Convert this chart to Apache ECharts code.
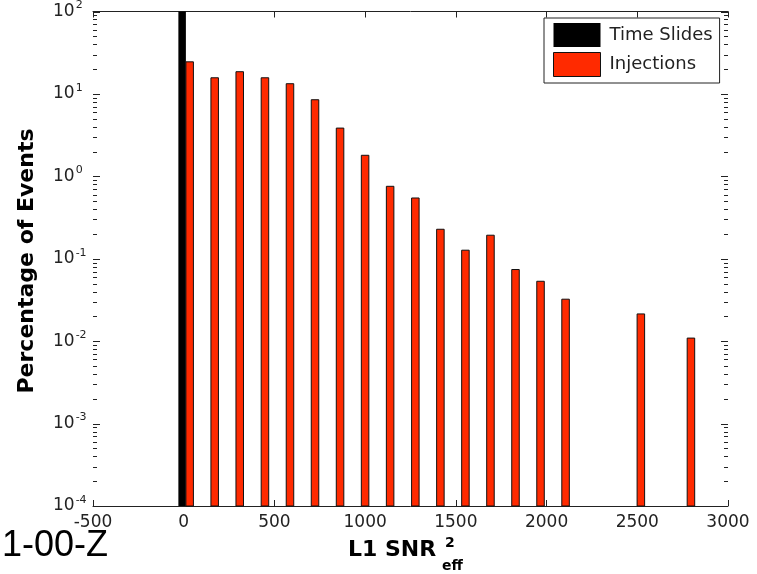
<!DOCTYPE html>
<html>
<head>
<meta charset="utf-8">
<title>L1 SNR eff histogram</title>
<script src="https://cdn.jsdelivr.net/npm/echarts@6/dist/echarts.min.js"></script>
<style>
  html, body { margin: 0; padding: 0; background: #fff; }
  #chart { width: 757px; height: 574px; }
</style>
</head>
<body>
<div id="chart"></div>
<script>
// Histogram bins (centres, in units of SNR^2_eff) and percentages per bin
const binWidth = 138.15;
const timeSlideBins = [12];
const timeSlides = [100];
const injectionBins = [12, 150, 288, 427, 565, 703, 841, 979, 1117, 1256, 1394, 1532, 1670, 1808, 1946, 2084, 2499, 2775];
const injections = [24.5, 15.7, 18.6, 15.7, 13.3, 8.5, 3.85, 1.80, 0.757, 0.546, 0.228, 0.127, 0.193, 0.074, 0.0533, 0.0323, 0.0214, 0.0109];

// Axis ranges and tick positions
const X_MIN = -500, X_MAX = 3000, X_STEP = 500;
const Y_MIN = 1e-4, Y_MAX = 100;
const yDecades = [1e-4, 1e-3, 1e-2, 1e-1, 1, 10, 100];
const yMinor = [];
for (let d = -4; d < 2; d++) {
  for (let m = 2; m <= 9; m++) yMinor.push(m * Math.pow(10, d));
}

const AXIS_COLOR = '#222';
const LABEL_FONT = 'DejaVu Sans';
const TITLE_FONT = 'DejaVu Sans';
const BAR_FRACTION = 0.3;
const MAJOR_LEN = 7, MINOR_LEN = 4;

function toPairs(xs, ys) {
  return xs.map((x, i) => [x, ys[i]]);
}

// side < 0 draws the bar to the left of the bin centre, side > 0 to the right
function barRenderer(side, fill, stroke, lineWidth) {
  return function (params, api) {
    const x = api.value(0);
    const v = api.value(1);
    const top = api.coord([x, v]);
    const base = api.coord([x, Y_MIN]);
    const w = api.coord([x + binWidth * BAR_FRACTION, v])[0] - top[0];
    const x0 = side < 0 ? top[0] - w : top[0];
    return {
      type: 'rect',
      shape: { x: x0, y: top[1], width: w, height: base[1] - top[1] },
      style: { fill: fill, stroke: stroke, lineWidth: lineWidth }
    };
  };
}

// Log-axis tick marks drawn inward on both the left and right frame edges
const yTickMarks = yDecades.map(v => [X_MIN, v, MAJOR_LEN])
  .concat(yMinor.map(v => [X_MIN, v, MINOR_LEN]));

function tickRenderer(params, api) {
  const v = api.value(1);
  const len = api.value(2);
  const l = api.coord([X_MIN, v]);
  const r = api.coord([X_MAX, v]);
  const y = Math.round(l[1]) + 0.5;
  const style = { stroke: AXIS_COLOR, lineWidth: 1 };
  return {
    type: 'group',
    children: [
      { type: 'line', shape: { x1: l[0], y1: y, x2: l[0] + len, y2: y }, style: style },
      { type: 'line', shape: { x1: r[0] - len, y1: y, x2: r[0], y2: y }, style: style }
    ]
  };
}

function expLabel(v) {
  const e = Math.round(Math.log10(v));
  return '{b|10}{e|' + e + '}';
}

const labelRich = {
  b: { fontFamily: LABEL_FONT, fontSize: 17, color: AXIS_COLOR },
  e: { fontFamily: LABEL_FONT, fontSize: 11, color: AXIS_COLOR, padding: [0, 0, 12, 1] }
};

const chart = echarts.init(document.getElementById('chart'), null, { renderer: 'canvas' });

chart.setOption({
  animation: false,
  backgroundColor: '#fff',
  grid: { left: 93, right: 29, top: 11, bottom: 68 },
  xAxis: [
    {
      type: 'value', position: 'bottom', min: X_MIN, max: X_MAX, interval: X_STEP,
      splitLine: { show: false },
      axisLine: { show: true, onZero: false, lineStyle: { color: AXIS_COLOR, width: 1 } },
      axisTick: { show: true, inside: true, length: 6, lineStyle: { color: AXIS_COLOR } },
      axisLabel: {
        fontFamily: LABEL_FONT, fontSize: 17, color: AXIS_COLOR, margin: 8,
        formatter: v => String(v)
      }
    },
    {
      type: 'value', position: 'top', min: X_MIN, max: X_MAX, interval: X_STEP,
      splitLine: { show: false },
      axisLine: { show: true, onZero: false, lineStyle: { color: AXIS_COLOR, width: 1 } },
      axisTick: { show: true, inside: true, length: 6, lineStyle: { color: AXIS_COLOR } },
      axisLabel: { show: false }
    }
  ],
  yAxis: [
    {
      type: 'log', logBase: 10, min: Y_MIN, max: Y_MAX, splitNumber: 6, position: 'left',
      splitLine: { show: false },
      axisLine: { show: true, lineStyle: { color: AXIS_COLOR, width: 1 } },
      axisTick: { show: false },
      axisLabel: {
        show: true, align: 'left', margin: 40,
        formatter: expLabel, rich: labelRich
      }
    },
    {
      type: 'log', logBase: 10, min: Y_MIN, max: Y_MAX, position: 'right',
      splitLine: { show: false },
      axisLine: { show: true, lineStyle: { color: AXIS_COLOR, width: 1 } },
      axisTick: { show: false },
      axisLabel: { show: false }
    }
  ],
  legend: {
    orient: 'vertical',
    left: 544, top: 18,
    padding: [5, 7, 6, 9],
    itemWidth: 47, itemHeight: 24, itemGap: 5,
    borderColor: AXIS_COLOR, borderWidth: 1,
    backgroundColor: '#fff',
    selectedMode: false,
    textStyle: { fontFamily: LABEL_FONT, fontSize: 18, color: AXIS_COLOR, padding: [0, 0, 0, 4] },
    data: [
      { name: 'Time Slides', icon: 'rect', itemStyle: { color: '#000', borderWidth: 0 } },
      { name: 'Injections', icon: 'rect', itemStyle: { color: '#ff2a00', borderColor: '#111', borderWidth: 1 } }
    ]
  },
  series: [
    {
      name: 'Time Slides', type: 'custom', xAxisIndex: 0, yAxisIndex: 0,
      itemStyle: { color: '#000' },
      renderItem: barRenderer(-1, '#000', null, 0),
      data: toPairs(timeSlideBins, timeSlides)
    },
    {
      name: 'Injections', type: 'custom', xAxisIndex: 0, yAxisIndex: 0,
      itemStyle: { color: '#ff2a00' },
      renderItem: barRenderer(1, '#ff2a00', '#111', 1),
      data: toPairs(injectionBins, injections)
    },
    {
      name: 'yTicks', type: 'custom', xAxisIndex: 0, yAxisIndex: 0,
      silent: true, z: 5,
      encode: { x: 0, y: 1 },
      renderItem: tickRenderer,
      data: yTickMarks
    }
  ],
  graphic: [
    {
      type: 'text', left: 2, top: 528,
      style: { text: '1-00-Z', fontFamily: 'Liberation Sans', fontSize: 36, fill: '#000' }
    },
    {
      type: 'text', x: 27, y: 261, rotation: Math.PI / 2,
      style: {
        text: 'Percentage of Events', fontFamily: TITLE_FONT, fontWeight: 'bold', fontSize: 22,
        fill: '#000', align: 'center', verticalAlign: 'middle'
      }
    },
    {
      type: 'text', x: 348, y: 550,
      style: {
        text: 'L1 SNR', fontFamily: TITLE_FONT, fontWeight: 'bold', fontSize: 22,
        fill: '#000', align: 'left', verticalAlign: 'middle'
      }
    },
    {
      type: 'text', x: 445, y: 543,
      style: {
        text: '2', fontFamily: TITLE_FONT, fontWeight: 'bold', fontSize: 14,
        fill: '#000', align: 'left', verticalAlign: 'middle'
      }
    },
    {
      type: 'text', x: 442, y: 566,
      style: {
        text: 'eff', fontFamily: TITLE_FONT, fontWeight: 'bold', fontSize: 14,
        fill: '#000', align: 'left', verticalAlign: 'middle'
      }
    }
  ]
});
</script>
</body>
</html>
